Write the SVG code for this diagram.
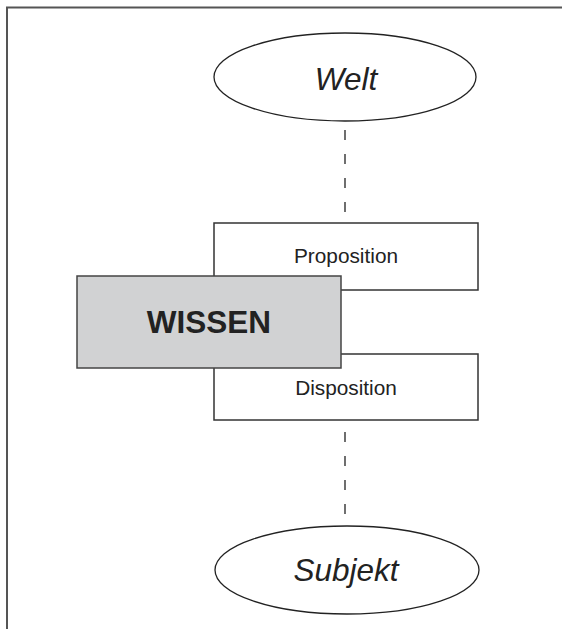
<svg xmlns="http://www.w3.org/2000/svg" width="562" height="629" viewBox="0 0 562 629">
<style>
.frame{fill:none;stroke:#555;stroke-width:2}
.ell{fill:#fff;stroke:#222;stroke-width:1.3}
.box{fill:#fff;stroke:#333;stroke-width:1.5}
.main{fill:#d1d2d3;stroke:#444;stroke-width:1.5}
.dash{fill:none;stroke:#222;stroke-width:1.3;stroke-dasharray:10 14}
.it{font-family:"Liberation Sans",Arial,sans-serif;font-style:italic;font-size:31.5px;fill:#222;text-anchor:middle}
.lbl{font-family:"Liberation Sans",Arial,sans-serif;font-size:20.8px;fill:#222;text-anchor:middle}
.big{font-family:"Liberation Sans",Arial,sans-serif;font-weight:bold;font-size:31.5px;fill:#222;text-anchor:middle}
</style>
<rect width="562" height="629" fill="#fff"/>
<path class="frame" d="M7,629 V7.5 H562"/>
<g id="connectors">
<line class="dash" x1="345" y1="130" x2="345" y2="214"/>
<line class="dash" x1="345" y1="432" x2="345" y2="514"/>
</g>
<g id="welt">
<ellipse class="ell" cx="345" cy="77" rx="131" ry="44"/>
<text class="it" x="346" y="90">Welt</text>
</g>
<g id="proposition">
<rect class="box" x="214" y="223" width="264" height="67"/>
<text class="lbl" x="346" y="263">Proposition</text>
</g>
<g id="disposition">
<rect class="box" x="214" y="354" width="264" height="66"/>
<text class="lbl" x="346" y="395">Disposition</text>
</g>
<g id="wissen">
<rect class="main" x="77" y="276" width="264" height="92"/>
<text class="big" x="209" y="333">WISSEN</text>
</g>
<g id="subjekt">
<ellipse class="ell" cx="347" cy="570" rx="132" ry="44"/>
<text class="it" x="346" y="581">Subjekt</text>
</g>
</svg>
